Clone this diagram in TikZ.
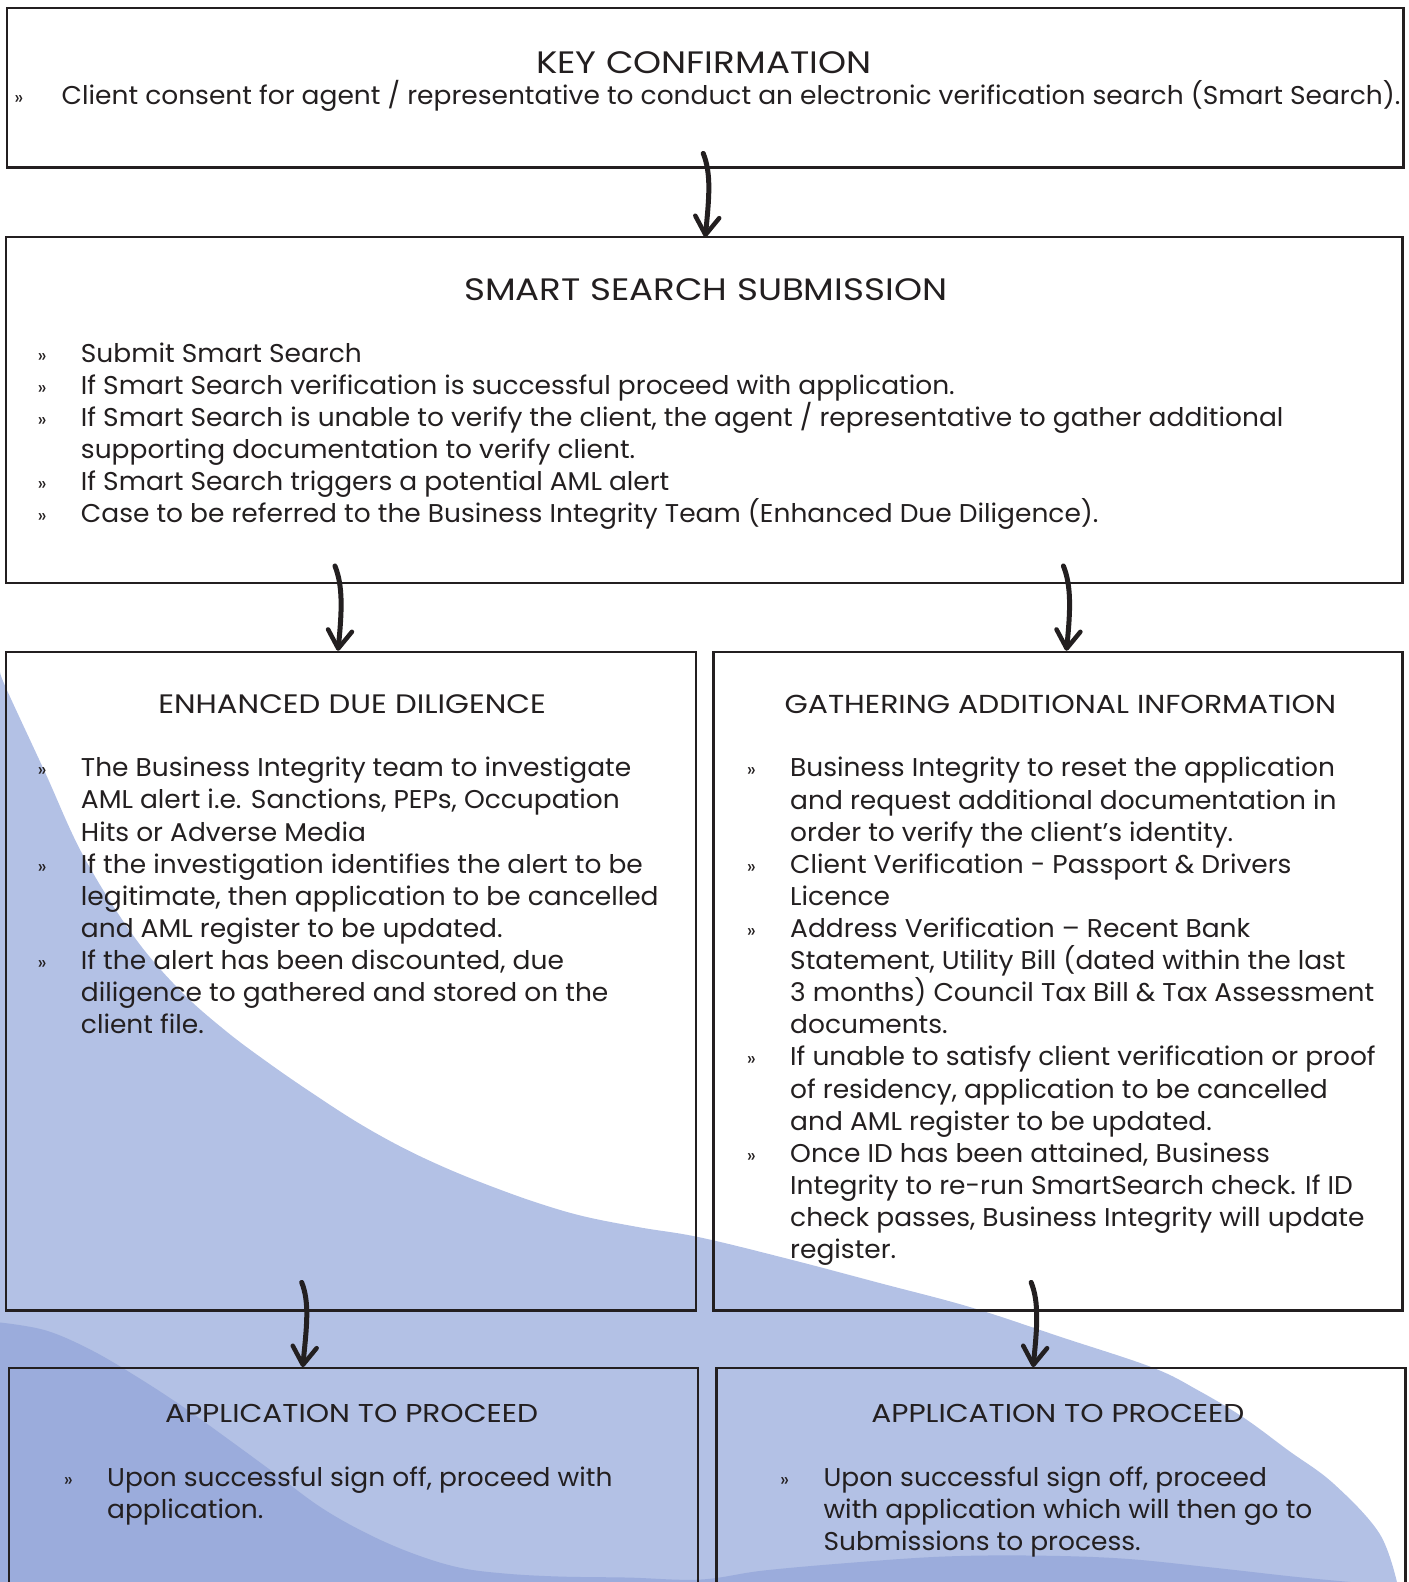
\documentclass[tikz,border=0pt]{standalone}
\usepackage{fontspec}
\setmainfont[FakeStretch=1.03]{Poppins}
\newfontfamily\ttlfont[FakeStretch=1.15]{Poppins}
\usetikzlibrary{arrows.meta,fit,calc}
\definecolor{lightblue}{RGB}{179,193,229}
\definecolor{darkblue}{RGB}{155,172,220}
\definecolor{ink}{RGB}{35,31,32}
\newcommand{\blt}[1][43.4pt]{\makebox[#1][l]{\fontsize{19}{19}\selectfont »}}
\newcommand{\ind}[1][43.4pt]{\hspace*{#1}}
\begin{document}
\begin{tikzpicture}[x=1.00857pt,y=-1.00857pt,
  box/.style={draw=ink, line width=2.4pt, inner sep=0pt},
  ttl/.style={font=\ttlfont\fontsize{31}{36}\selectfont, text=ink, anchor=base, inner sep=0pt},
  ttlsmall/.style={ttl, font=\ttlfont\fontsize{#1}{32}\selectfont},
  body/.style={font=\fontsize{25.7}{32.1}\selectfont, text=ink, anchor=base west, align=left, inner sep=0pt},
  flow/.style={line width=5pt, line cap=round, draw=ink, -{Straight Barb[length=18pt,width=24pt,line width=4.5pt,round]}}
]
\useasboundingbox (0,0) rectangle (1396,1568);
\clip (0,0) rectangle (1396,1568);
% background waves (full-size pixel coordinates)
\begin{scope}[x=1pt,y=-1pt]
\fill[lightblue] plot[smooth, tension=0.6] coordinates {(0,672) (7,690) (45,772) (83,855) (133,935) (180,990) (225,1030) (269,1063) (314,1094) (359,1123) (404,1148) (449,1169) (494,1187) (539,1203) (584,1216) (640,1227) (700,1237) (790,1259) (881,1283) (971,1307) (1062,1337) (1152,1367) (1198,1390) (1243,1417) (1288,1450) (1333,1483) (1379,1533) (1397,1584)} -- (1397,1600) -- (0,1600) -- cycle;
\fill[darkblue] plot[smooth, tension=0.6] coordinates {(0,1322) (46,1330) (92,1350) (138,1377) (184,1407) (230,1440) (275,1473) (321,1507) (367,1533) (413,1553) (459,1567) (505,1573) (560,1576) (628,1577) (700,1579) (763,1570) (853,1562) (943,1556) (1032,1555) (1122,1558) (1212,1567) (1302,1577) (1380,1584)} -- (1380,1600) -- (0,1600) -- cycle;
\end{scope}

% boxes
\node[box, fit={(7,8) (1391,166)}] (kc) {};
\node[box, fit={(6,235) (1390,578)}] (ss) {};
\node[box, fit={(6,646) (690,1299)}] (edd) {};
\node[box, fit={(707,646) (1390,1299)}] (gai) {};
\node[box, fit={(9,1356) (692,1600)}] (apl) {};
\node[box, fit={(710,1356) (1393,1600)}] (apr) {};

% titles
\node[ttl] (kct) at (697.5,72.7) {KEY CONFIRMATION};
\node[ttl] (sst) at (699.5,297.5) {SMART SEARCH SUBMISSION};
\node[ttlsmall=26.7] (eddt) at (349,707.3) {ENHANCED DUE DILIGENCE};
\node[ttlsmall=26] (gait) at (1051,707.3) {GATHERING ADDITIONAL INFORMATION};
\node[ttlsmall=25.8] (aplt) at (348.5,1410.2) {APPLICATION TO PROCEED};
\node[ttlsmall=25.8] (aprt) at (1048.5,1410.2) {APPLICATION TO PROCEED};

% bodies (anchored at the baseline of their last line)
\node[body] (kcb) at (14,104) {\blt[47.4pt]Client consent for agent / representative to conduct an electronic verification search (Smart Search).};
\node[body] (ssb) at (37,518.2) {\blt Submit Smart Search\\
\blt If Smart Search verification is successful proceed with application.\\
\blt If Smart Search is unable to verify the client, the agent / representative to gather additional\\
\ind supporting documentation to verify client.\\
\blt If Smart Search triggers a potential AML alert\\
\blt Case to be referred to the Business Integrity Team (Enhanced Due Diligence).};
\node[body] (eddb) at (37,1024.6) {\blt The Business Integrity team to investigate\\
\ind AML alert i.e. Sanctions, PEPs, Occupation\\
\ind Hits or Adverse Media\\
\blt If the investigation identifies the alert to be\\
\ind legitimate, then application to be cancelled\\
\ind and AML register to be updated.\\
\blt If the alert has been discounted, due\\
\ind diligence to gathered and stored on the\\
\ind client file.};
\node[body] (gaib) at (740,1247.5) {\blt Business Integrity to reset the application\\
\ind and request additional documentation in\\
\ind order to verify the client’s identity.\\
\blt Client Verification - Passport \& Drivers\\
\ind Licence\\
\blt Address Verification – Recent Bank\\
\ind Statement, Utility Bill (dated within the last\\
\ind 3 months) Council Tax Bill \& Tax Assessment\\
\ind documents.\\
\blt If unable to satisfy client verification or proof\\
\ind of residency, application to be cancelled\\
\ind and AML register to be updated.\\
\blt Once ID has been attained, Business\\
\ind Integrity to re-run SmartSearch check. If ID\\
\ind check passes, Business Integrity will update\\
\ind register.};
\node[body] (aplb) at (63,1504.8) {\blt Upon successful sign off, proceed with\\
\ind application.};
\node[body] (aprb) at (773,1536.7) {\blt Upon successful sign off, proceed\\
\ind with application which will then go to\\
\ind Submissions to process.};

% connectors
\coordinate (a1s) at (697,152);  \coordinate (a1e) at (699,235);
\coordinate (a2s) at (332,561);  \coordinate (a2e) at (335,645);
\coordinate (a3s) at (1054,561); \coordinate (a3e) at (1057,645);
\coordinate (a4s) at (299,1271); \coordinate (a4e) at (300,1355);
\coordinate (a5s) at (1022,1271);\coordinate (a5e) at (1024,1355);
\draw[flow] (a1s) .. controls +(8,20) and +(4,-40) .. (a1e);
\draw[flow] (a2s) .. controls +(8,20) and +(4,-40) .. (a2e);
\draw[flow] (a3s) .. controls +(8,20) and +(4,-40) .. (a3e);
\draw[flow] (a4s) .. controls +(8,20) and +(4,-40) .. (a4e);
\draw[flow] (a5s) .. controls +(8,20) and +(4,-40) .. (a5e);
\end{tikzpicture}
\end{document}
